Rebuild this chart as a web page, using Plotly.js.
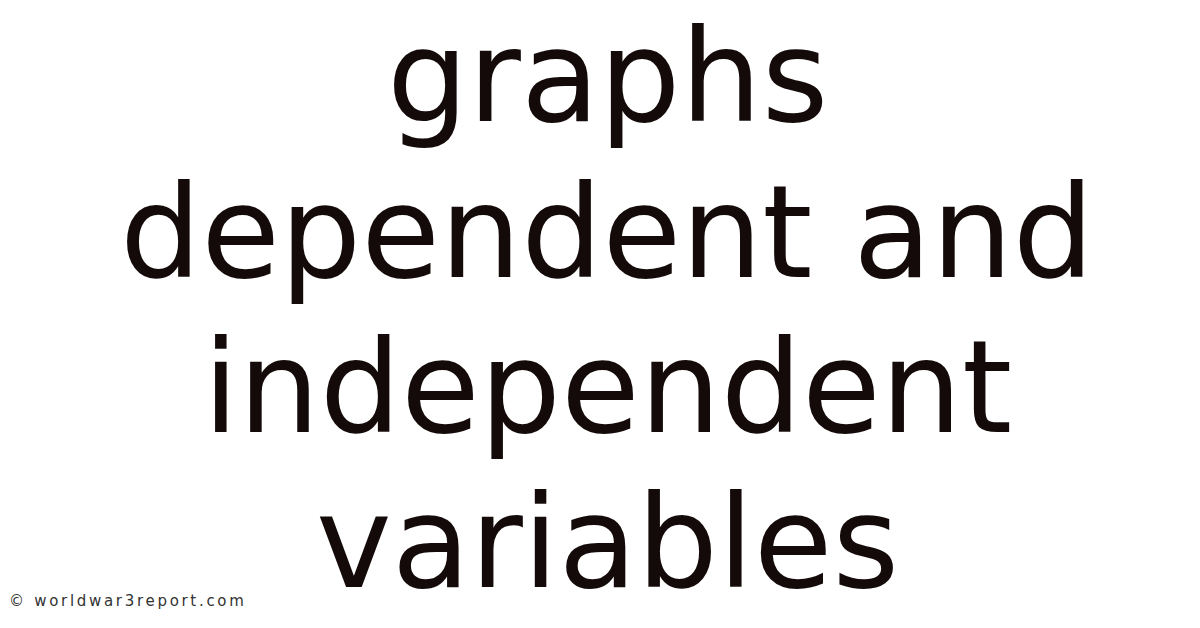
<!DOCTYPE html>
<html>
<head>
<meta charset="utf-8">
<script src="https://cdn.plot.ly/plotly-3.0.1.min.js"></script>
<style>
  html, body { margin: 0; padding: 0; background: #ffffff; }
  #graph { width: 1200px; height: 628px; }
  /* the credit line in the reference is spaced out */
  text[data-unformatted*="worldwar3report"] { letter-spacing: 2.7px; }
</style>
</head>
<body>
<div id="graph"></div>
<script>
// title lines and where each one sits (pixel y of the line centre)
var titleLines = ['graphs', 'dependent and', 'independent', 'variables'];
var lineCentres = [76, 232, 387, 542];
var credit = '\u00a9 worldwar3report.com';

function draw() {
    var annotations = titleLines.map(function (txt, i) {
        return {
            text: txt,
            xref: 'x', yref: 'y',
            x: 607, y: lineCentres[i],
            xanchor: 'center', yanchor: 'middle',
            showarrow: false,
            font: { family: 'DejaVu Sans', size: 128, color: '#140a0a' }
        };
    });

    annotations.push({
        text: credit,
        xref: 'x', yref: 'y',
        x: 7, y: 601,
        xanchor: 'left', yanchor: 'middle',
        showarrow: false,
        font: { family: 'DejaVu Sans', size: 15, color: '#333333' }
    });

    const layout = {
        width: 1200,
        height: 628,
        margin: { l: 0, r: 0, t: 0, b: 0 },
        paper_bgcolor: '#ffffff',
        plot_bgcolor: '#ffffff',
        showlegend: false,
        xaxis: { range: [0, 1200], visible: false, fixedrange: true },
        yaxis: { range: [628, 0], visible: false, fixedrange: true },
        annotations: annotations
    };

    Plotly.newPlot('graph', [], layout, { staticPlot: true });
}

window.addEventListener('load', draw, false);
</script>
</body>
</html>
